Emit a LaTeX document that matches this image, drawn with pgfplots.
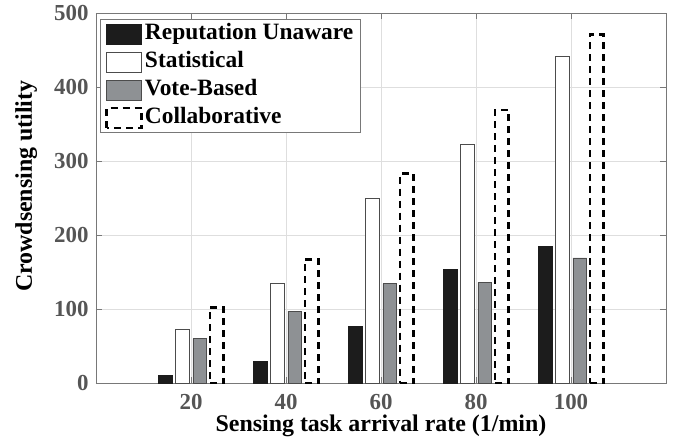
\documentclass[border=0pt]{standalone}
\usepackage{fontspec}
\setmainfont{Liberation Serif}
\usepackage{pgfplots}
\pgfplotsset{compat=1.18}
\definecolor{barblack}{RGB}{28,28,28}
\definecolor{bargray}{RGB}{142,145,148}
\definecolor{framegray}{RGB}{120,120,120}
\definecolor{tickgray}{RGB}{85,85,85}
\begin{document}
\begin{tikzpicture}
\begin{axis}[
  scale only axis, width=570bp, height=370bp,
  xmin=0, xmax=120, ymin=0, ymax=500,
  xtick={20,40,60,80,100}, ytick={0,100,200,300,400,500},
  ybar, bar width=2.9,
  grid=major, grid style={draw=black!13, line width=0.5bp},
  axis line style={draw=framegray, line width=0.8bp},
  tick style={draw=framegray, line width=0.8bp},
  tick align=inside, major tick length=6bp,
  /pgf/number format/assume math mode=true,
  ticklabel style={font=\fontsize{23}{23}\selectfont\bfseries, text=tickgray},
  xticklabel style={anchor=base, yshift=-26bp, inner sep=0pt},
  yticklabel style={xshift=-4bp},
  xlabel={Sensing task arrival rate (1/min)},
  xlabel style={at={(axis description cs:0.5,0)}, anchor=base, yshift=-48bp, inner sep=0pt, font=\fontsize{24}{24}\selectfont\bfseries},
  ylabel={Crowdsensing utility},
  ylabel style={at={(axis description cs:0,0.532)}, anchor=base, yshift=64bp, inner sep=0pt, font=\fontsize{24}{24}\selectfont\bfseries},
  legend cell align=left,
  legend image code/.code={\draw[#1] (0bp,-10bp) rectangle (35bp,10bp);},
  legend style={at={(axis description cs:0,1)}, anchor=north west, xshift=4bp, yshift=-6bp,
    draw=framegray, line width=0.8bp, fill=white,
    font=\fontsize{23.5}{23.5}\selectfont\bfseries, row sep=3bp, inner xsep=5bp, inner ysep=2bp,
    nodes={inner sep=2bp, text height=16bp, text depth=5bp}},
]
\addplot[fill=barblack, draw=barblack, line width=0.8bp, bar shift=-5.4] coordinates {(20,10) (40,29) (60,77) (80,154) (100,184)};
\addplot[fill=white, draw=black!70, line width=0.8bp, bar shift=-1.8] coordinates {(20,72) (40,134) (60,249) (80,323) (100,441)};
\addplot[fill=bargray, draw=black!70, line width=0.8bp, bar shift=1.85] coordinates {(20,60) (40,97) (60,134) (80,136) (100,169)};
\addplot[fill=none, draw=black, line width=2.6bp, dash pattern=on 7bp off 5bp, bar shift=5.45] coordinates {(20,102) (40,167) (60,283) (80,369) (100,471)};
\legend{Reputation Unaware, Statistical, Vote-Based, Collaborative}
\end{axis}
\pgfresetboundingbox
\path[use as bounding box] ([shift={(-96bp,-58bp)}]current axis.south west) rectangle ([shift={(7bp,13bp)}]current axis.north east);
\end{tikzpicture}
\end{document}
